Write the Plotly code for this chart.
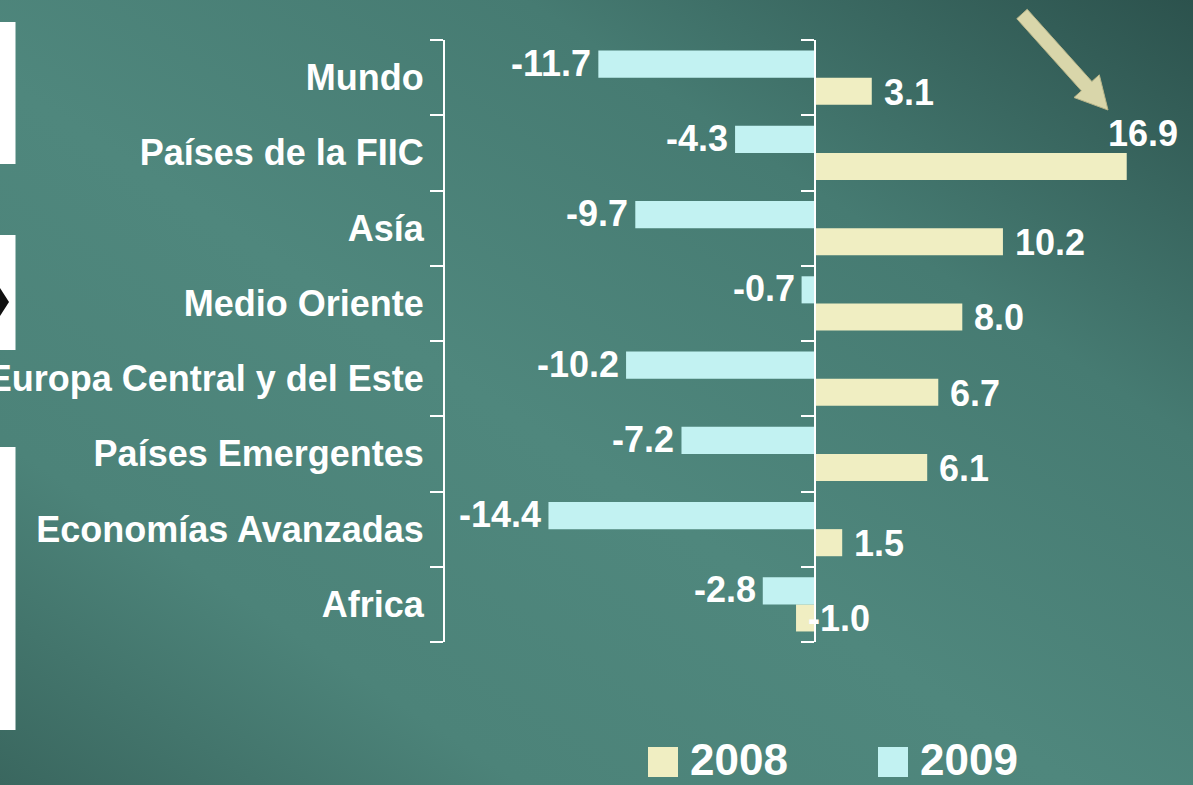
import base64
import plotly.graph_objects as go

# ---------------- data ----------------
categories = ["Mundo", "Países de la FIIC", "Asía", "Medio Oriente",
              "Europa Central y del Este", "Países Emergentes",
              "Economías Avanzadas", "Africa"]
values_2008 = [3.1, 16.9, 10.2, 8.0, 6.7, 6.1, 1.5, -1.0]
values_2009 = [-11.7, -4.3, -9.7, -0.7, -10.2, -7.2, -14.4, -2.8]
series_names = ["2008", "2009"]
x_range = [-20, 20]

# ---------------- style ----------------
W, H = 1193, 785
L, R, T, B = 445, 9, 40, 143
PW, PH = W - L - R, H - T - B
BARGAP = 0.28
COL_2008 = "#f0eec2"
COL_2009 = "#c2f2f2"
FONT = "Liberation Sans, Arial, sans-serif"
WHITE = "#ffffff"


def px(xp):
    return (xp - L) / PW


def py(yp):
    return (H - B - yp) / PH


cat_px = PH / len(categories)
bar_off = cat_px * (1 - BARGAP) / 4

fig = go.Figure()
fig.add_trace(go.Bar(orientation="h", y=categories, x=values_2008, name=series_names[0],
                     marker=dict(color=COL_2008, line=dict(width=0)), showlegend=False,
                     hoverinfo="x+y"))
fig.add_trace(go.Bar(orientation="h", y=categories, x=values_2009, name=series_names[1],
                     marker=dict(color=COL_2009, line=dict(width=0)), showlegend=False,
                     hoverinfo="x+y"))
# invisible trace carrying the zero-positioned category axis
fig.add_trace(go.Scatter(x=[0] * len(categories), y=categories, yaxis="y2", mode="markers",
                         marker=dict(opacity=0), showlegend=False, hoverinfo="skip"))

annotations = []
lab_font = dict(family=FONT, size=36, color=WHITE, weight="bold")
for c, v in zip(categories, values_2008):
    if v > 15:
        annotations.append(dict(x=v, y=c, xref="x", yref="y", text=f"{v:.1f}", showarrow=False,
                                xanchor="center", xshift=16, yshift=-bar_off + 33, font=lab_font))
    else:
        annotations.append(dict(x=v, y=c, xref="x", yref="y", text=f"{v:.1f}", showarrow=False,
                                xanchor="left", xshift=10, yshift=-bar_off - 1, font=lab_font))
for c, v in zip(categories, values_2009):
    annotations.append(dict(x=v, y=c, xref="x", yref="y", text=f"{v:.1f}", showarrow=False,
                            xanchor="right", xshift=-5, yshift=bar_off + 1, font=lab_font))

# manual legend
shapes = []
leg = [(648, series_names[0], COL_2008), (878, series_names[1], COL_2009)]
for x0, name, col in leg:
    shapes.append(dict(type="rect", xref="paper", yref="paper", x0=px(x0), x1=px(x0 + 30),
                       y0=py(777), y1=py(747), fillcolor=col, line=dict(width=0), layer="above"))
    annotations.append(dict(xref="paper", yref="paper", x=px(x0 + 40), y=py(759), text=name,
                            showarrow=False, xanchor="left", yanchor="middle",
                            font=dict(family=FONT, size=44, color=WHITE, weight="bold")))

# decorative white boxes at the left edge
for y0, y1 in [(22, 164), (235, 350), (447, 730)]:
    shapes.append(dict(type="rect", xref="paper", yref="paper", x0=px(-2), x1=px(15.5),
                       y0=py(y1), y1=py(y0), fillcolor=WHITE, line=dict(width=0), layer="above"))
shapes.append(dict(type="path", xref="paper", yref="paper",
                   path=f"M {px(0)} {py(288)} L {px(9)} {py(302)} L {px(0)} {py(316)} Z",
                   fillcolor="#111111", line=dict(width=0), layer="above"))

# decorative arrow (top right)
tail = (1022, 14)
tip = (1108, 110)
dx, dy = tip[0] - tail[0], tip[1] - tail[1]
ln = (dx * dx + dy * dy) ** 0.5
ux, uy = dx / ln, dy / ln
nx, ny = -uy, ux
hw, hh, hl = 7, 17, 32
neck = (tip[0] - ux * hl, tip[1] - uy * hl)
pts = [
    (tail[0] + nx * hw, tail[1] + ny * hw),
    (neck[0] + nx * hw, neck[1] + ny * hw),
    (neck[0] + nx * hh, neck[1] + ny * hh),
    tip,
    (neck[0] - nx * hh, neck[1] - ny * hh),
    (neck[0] - nx * hw, neck[1] - ny * hw),
    (tail[0] - nx * hw, tail[1] - ny * hw),
]
path = "M " + " L ".join(f"{px(a):.5f} {py(b):.5f}" for a, b in pts) + " Z"
shapes.append(dict(type="path", xref="paper", yref="paper", path=path,
                   fillcolor="#d9d6aa", line=dict(color="#b9b68a", width=1), layer="above"))

# background gradient
svg = (f'<svg xmlns="http://www.w3.org/2000/svg" width="{W}" height="{H}" viewBox="0 0 {W} {H}" preserveAspectRatio="none">'
       '<defs><linearGradient id="g" x1="1" y1="0" x2="0" y2="1">'
       '<stop offset="0" stop-color="#2c524d"/>'
       '<stop offset="0.28" stop-color="#467b72"/>'
       '<stop offset="0.55" stop-color="#4f877d"/>'
       '<stop offset="0.78" stop-color="#4c8379"/>'
       '<stop offset="1" stop-color="#3a675f"/></linearGradient></defs>'
       f'<rect width="{W}" height="{H}" fill="url(#g)"/></svg>')
src = "data:image/svg+xml;base64," + base64.b64encode(svg.encode()).decode()

rev = categories[::-1]
axis_common = dict(type="category", categoryorder="array", categoryarray=rev,
                   range=[-0.5, len(categories) - 0.5], showline=True, linecolor=WHITE,
                   linewidth=2, ticks="outside", ticklen=13, tickwidth=2, tickcolor=WHITE,
                   tickson="boundaries", showgrid=False, zeroline=False, fixedrange=True,
                   automargin=False)

fig.update_layout(
    width=W, height=H, autosize=False,
    margin=dict(l=L, r=R, t=T, b=B, pad=0, autoexpand=False),
    paper_bgcolor="#4b8279", plot_bgcolor="rgba(0,0,0,0)",
    barmode="group", bargap=BARGAP, bargroupgap=0,
    xaxis=dict(range=x_range, visible=False, fixedrange=True, automargin=False),
    yaxis=dict(**axis_common, side="left",
               tickfont=dict(family=FONT, size=36, color=WHITE, weight="bold"),
               ticklabelstandoff=12),
    yaxis2=dict(**axis_common, overlaying="y", anchor="free", side="left",
                position=(0 - x_range[0]) / (x_range[1] - x_range[0]), showticklabels=False),
    annotations=annotations, shapes=shapes,
    images=[dict(source=src, xref="paper", yref="paper", x=px(0), y=py(0),
                 sizex=W / PW, sizey=H / PH, xanchor="left", yanchor="top",
                 sizing="stretch", layer="below")],
    showlegend=False,
)

fig.write_html("out.html", config={"displayModeBar": False})
with open("out.html", encoding="utf-8") as f:
    html = f.read()
html = html.replace("<head>", "<head><style>html,body{margin:0;padding:0;overflow:hidden;}</style>", 1)
with open("out.html", "w", encoding="utf-8") as f:
    f.write(html)
